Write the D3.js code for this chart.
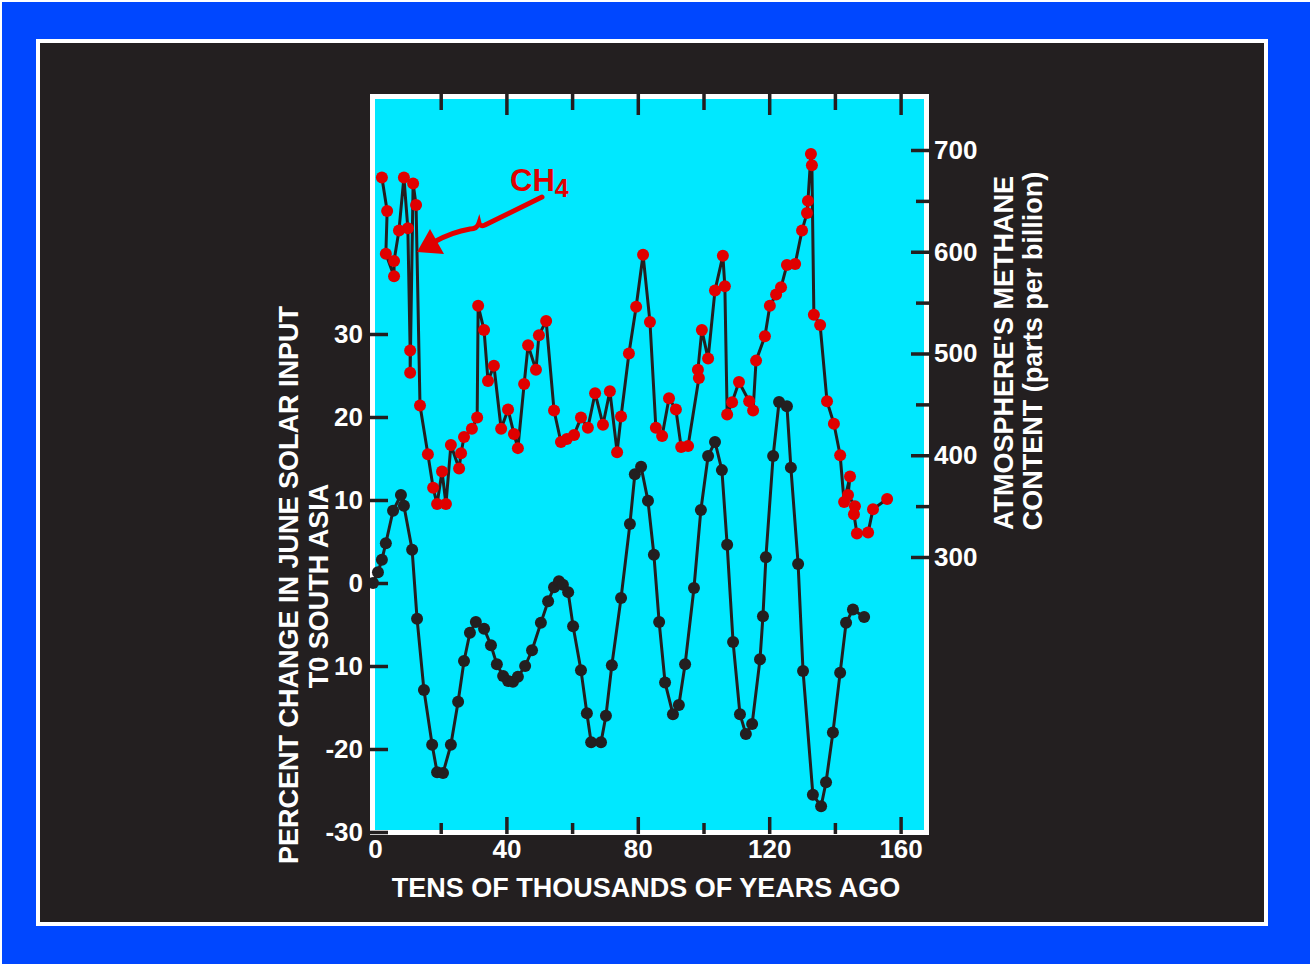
<!DOCTYPE html>
<html>
<head>
<meta charset="utf-8">
<script src="https://cdn.jsdelivr.net/npm/d3@7"></script>
<style>
  html, body { margin: 0; padding: 0; background: #ffffff; }
  svg text { font-family: "Liberation Sans", Arial, Helvetica, sans-serif; font-weight: bold; }
</style>
</head>
<body>
<div id="main"></div>
<script>
const W = 1312, H = 966;

// solar input, % change (black)
const solarYears = [-0.6,0.9,2.1,3.3,5.5,7.9,8.8,11.3,12.8,14.9,17.4,18.9,20.7,23.1,25.3,27.1,28.9,30.7,33.2,35.3,37.1,39.0,40.5,42.0,43.5,45.7,47.8,50.5,52.7,54.5,56.0,57.2,58.8,60.3,62.7,64.5,65.8,68.8,70.3,72.1,74.9,77.6,79.1,81.0,83.1,84.9,86.5,88.3,90.7,92.5,94.4,97.1,99.2,101.4,103.5,105.6,107.2,109.0,111.1,112.9,114.8,117.2,118.1,119.0,121.2,123.0,125.4,126.6,128.8,130.3,133.3,135.8,137.3,139.4,141.6,143.4,145.5,148.9];
const solarPct = [0,1.3,2.8,4.8,8.7,10.6,9.3,4.0,-4.3,-12.9,-19.5,-22.8,-22.9,-19.5,-14.3,-9.4,-6.0,-4.7,-5.5,-7.5,-9.8,-11.2,-11.8,-11.9,-11.3,-10.0,-8.1,-4.8,-2.2,-0.5,0.2,-0.2,-1.1,-5.2,-10.5,-15.7,-19.2,-19.2,-16.0,-9.9,-1.8,7.1,13.1,14.0,9.9,3.4,-4.7,-12.0,-15.8,-14.7,-9.8,-0.6,8.8,15.3,17.0,13.6,4.6,-7.1,-15.8,-18.2,-17.0,-9.2,-4.0,3.1,15.3,21.8,21.3,13.9,2.3,-10.6,-25.5,-26.9,-24.0,-18.0,-10.8,-4.8,-3.2,-4.1];

// methane, ppb (red)
const ch4Years = [2.1,3.7,3.3,5.8,5.8,7.3,8.8,10.0,10.7,10.7,11.6,12.5,13.7,16.1,17.7,18.9,20.4,21.6,23.1,25.6,26.2,27.1,29.5,31.1,31.4,33.2,34.4,36.2,38.4,40.5,42.3,43.5,45.4,46.6,49.0,49.9,52.1,54.5,56.6,58.4,60.6,62.7,64.8,67.0,69.4,71.5,73.7,74.9,77.3,79.5,81.6,83.7,85.5,87.4,89.5,91.6,93.2,95.3,98.6,98.3,99.5,101.4,103.5,105.9,106.5,107.2,108.7,110.8,113.9,115.1,116.0,118.7,120.2,122.1,123.6,125.4,127.9,130.0,131.5,131.8,132.7,133.0,133.6,135.5,137.6,139.7,141.6,142.8,144.6,144.0,146.1,145.8,146.7,150.1,151.6,155.9];
const ch4Ppb = [673,640,598,576,591,621,673,623,503,481,667,646,449,401,368,352,384,352,410,387,402,418,426,437,547,523,473,488,426,445,421,407,470,508,484,518,532,444,413,416,420,437,427,461,430,463,403,438,500,546,597,531,427,419,456,445,408,409,476,484,523,495,562,596,566,440,452,472,453,444,493,517,547,558,565,587,588,621,638,650,696,685,538,528,453,431,400,354,379,361,350,342,323,324,347,357];

const xTicks = [0, 40, 80, 120, 160];
const xMinorTicks = [20, 40, 60, 80, 100, 120, 140, 160];
const leftTicks = [-30, -20, -10, 0, 10, 20, 30];
const leftTickLabels = ['-30', '-20', '10', '0', '10', '20', '30'];
const rightTicks = [300, 350, 400, 450, 500, 550, 600, 650, 700];

const svg = d3.select('#main')
            .append('svg')
            .attr('width', W)
            .attr('height', H)

svg.append('rect').attr('x', 2).attr('y', 2).attr('width', W - 4).attr('height', H - 4).attr('fill', '#0047ff')
svg.append('rect').attr('x', 38).attr('y', 41).attr('width', 1228).attr('height', 883)
    .attr('fill', '#231f20').attr('stroke', '#ffffff').attr('stroke-width', 4)

const x = d3.scaleLinear().domain([0, 160]).range([375, 900.6])
const yL = d3.scaleLinear().domain([-30, 30]).range([832, 334])
const yR = d3.scaleLinear().domain([300, 700]).range([557, 150])

// plot frame
svg.append('rect').attr('x', 372.5).attr('y', 96.5).attr('width', 554).attr('height', 736)
    .attr('fill', '#00e8ff').attr('stroke', '#ffffff').attr('stroke-width', 5)

const fs = 26, tfs = 27

// left axis
const leftAxis = svg.append('g')
    .attr('transform', 'translate(370,0)')
    .call(d3.axisLeft(yL).tickValues(leftTicks).tickSize(-18).tickPadding(7)
        .tickFormat((d, i) => leftTickLabels[i]))
leftAxis.select('.domain').remove()
leftAxis.selectAll('line').attr('stroke', '#231f20').attr('stroke-width', 3.5)
leftAxis.selectAll('text').attr('fill', '#fff').attr('font-size', fs).attr('font-family', null)

// right axis
const rightAxis = svg.append('g')
    .attr('transform', 'translate(930,0)')
    .call(d3.axisRight(yR).tickValues(rightTicks).tickSize(-19).tickPadding(4)
        .tickFormat(d => d % 100 === 0 ? d : ''))
rightAxis.select('.domain').remove()
rightAxis.selectAll('line').attr('stroke', '#231f20').attr('stroke-width', 3.5)
    .attr('x2', d => d % 100 === 0 ? -19 : -14)
rightAxis.selectAll('text').attr('fill', '#fff').attr('font-size', fs).attr('font-family', null)

// bottom axis
const bottomTicks = svg.append('g')
    .attr('transform', 'translate(0,834)')
    .call(d3.axisBottom(x).tickValues(xMinorTicks).tickSize(-16).tickFormat(''))
bottomTicks.select('.domain').remove()
bottomTicks.selectAll('line').attr('stroke', '#231f20').attr('stroke-width', 3.5)
    .attr('y2', d => d % 40 === 0 ? -17 : -11)

const bottomLabels = svg.append('g')
    .attr('transform', 'translate(0,835)')
    .call(d3.axisBottom(x).tickValues(xTicks).tickSize(0).tickPadding(5))
bottomLabels.select('.domain').remove()
bottomLabels.selectAll('text').attr('fill', '#fff').attr('font-size', fs).attr('font-family', null)

// top axis
const topTicks = svg.append('g')
    .attr('transform', 'translate(0,94)')
    .call(d3.axisTop(x).tickValues(xMinorTicks).tickSize(-16).tickFormat(''))
topTicks.select('.domain').remove()
topTicks.selectAll('line').attr('stroke', '#231f20').attr('stroke-width', 3.5)
    .attr('y2', d => d % 40 === 0 ? 21 : 16)

// axis titles
svg.append('text').text('TENS OF THOUSANDS OF YEARS AGO')
    .attr('x', 646).attr('y', 897).attr('text-anchor', 'middle')
    .attr('fill', '#fff').attr('font-size', tfs)

svg.append('text').text('PERCENT CHANGE IN JUNE SOLAR INPUT')
    .attr('transform', 'translate(298,585) rotate(-90)').attr('text-anchor', 'middle')
    .attr('fill', '#fff').attr('font-size', tfs)
svg.append('text').text('T0 SOUTH ASIA')
    .attr('transform', 'translate(328,586) rotate(-90)').attr('text-anchor', 'middle')
    .attr('fill', '#fff').attr('font-size', tfs)

svg.append('text').text("ATMOSPHERE'S METHANE")
    .attr('transform', 'translate(1013,353) rotate(-90)').attr('text-anchor', 'middle')
    .attr('fill', '#fff').attr('font-size', tfs)
svg.append('text').text('CONTENT (parts per billion)')
    .attr('transform', 'translate(1042,351) rotate(-90)').attr('text-anchor', 'middle')
    .attr('fill', '#fff').attr('font-size', tfs)

// series
const solar = d3.zip(solarYears, solarPct)
const ch4 = d3.zip(ch4Years, ch4Ppb)

const solarLine = d3.line().x(d => x(d[0])).y(d => yL(d[1]))
const ch4Line = d3.line().x(d => x(d[0])).y(d => yR(d[1]))

svg.append('path').datum(solar).attr('d', solarLine)
    .attr('fill', 'none').attr('stroke', '#231f20').attr('stroke-width', 3).attr('stroke-linejoin', 'round')
svg.append('path').datum(ch4).attr('d', ch4Line)
    .attr('fill', 'none').attr('stroke', '#231f20').attr('stroke-width', 3).attr('stroke-linejoin', 'round')

svg.append('g').selectAll('circle')
    .data(solar).enter().append('circle')
    .attr('cx', d => x(d[0])).attr('cy', d => yL(d[1])).attr('r', 6)
    .attr('fill', '#231f20')

svg.append('g').selectAll('circle')
    .data(ch4).enter().append('circle')
    .attr('cx', d => x(d[0])).attr('cy', d => yR(d[1])).attr('r', 6)
    .attr('fill', '#e00000')

// CH4 label + arrow
const lbl = svg.append('text').attr('x', 510).attr('y', 191).attr('fill', '#e00000').attr('font-size', 31)
lbl.append('tspan').text('CH')
lbl.append('tspan').text('4').attr('font-size', 25).attr('dy', 6)

svg.append('path')
    .attr('d', 'M542,197 L485,225 Q480,227 479,223 Q477,229 470,229 Q452,232 434,242')
    .attr('fill', 'none').attr('stroke', '#e00000').attr('stroke-width', 5).attr('stroke-linecap', 'round')
svg.append('path')
    .attr('d', 'M417,252 L430,229 L444,254 Z')
    .attr('fill', '#e00000')
</script>
</body>
</html>
